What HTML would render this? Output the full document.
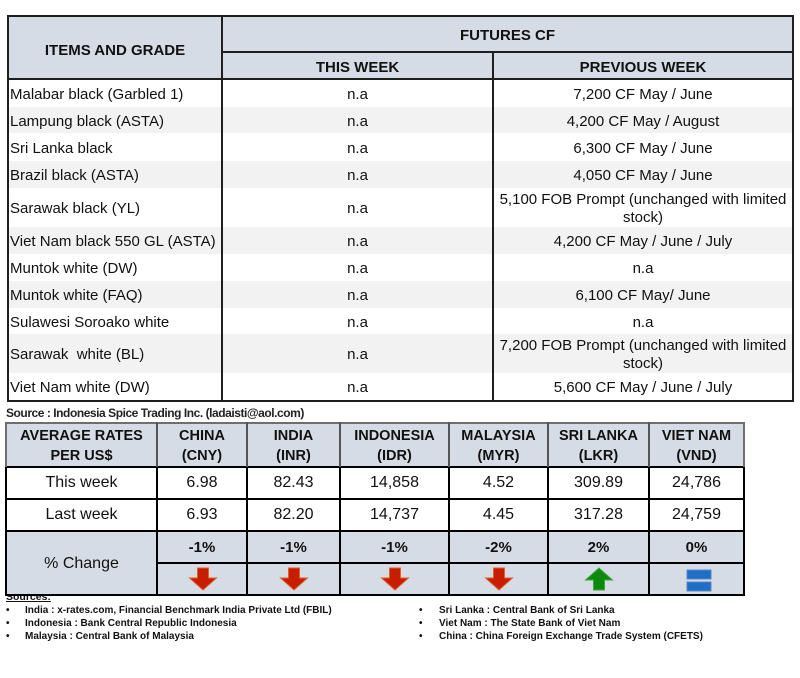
<!DOCTYPE html>
<html>
<head>
<meta charset="utf-8">
<style>
  html, body { margin:0; padding:0; }
  body { width:800px; height:678px; background:#fff; position:relative; overflow:hidden;
         font-family:"Liberation Sans", Arial, sans-serif; color:#111; }
  .a { position:absolute; }
  .bg { position:absolute; }
  .ln { position:absolute; background:#1e1e1e; }
  .c { position:absolute; display:flex; align-items:center; justify-content:center; text-align:center; white-space:nowrap; }
  .l { position:absolute; display:flex; align-items:center; white-space:nowrap; }
  .t1 { font-size:15px; }
  .hb { font-weight:bold; font-size:15px; }
  .h2 { font-weight:bold; font-size:14.5px; line-height:20px; }
  .v2 { font-size:16px; }
  .src { font-size:10px; font-weight:bold; color:#111; }
</style>
</head>
<body>

<!-- ============ TOP TABLE ============ -->
<div class="bg" style="left:8px;top:16px;width:785px;height:63px;background:#d6dce5;"></div>
<div class="bg" style="left:8px;top:107px;width:785px;height:26px;background:#f2f2f2;"></div>
<div class="bg" style="left:8px;top:161px;width:785px;height:27px;background:#f2f2f2;"></div>
<div class="bg" style="left:8px;top:227px;width:785px;height:27px;background:#f2f2f2;"></div>
<div class="bg" style="left:8px;top:281px;width:785px;height:27px;background:#f2f2f2;"></div>
<div class="bg" style="left:8px;top:334px;width:785px;height:39px;background:#f2f2f2;"></div>

<!-- lines -->
<div class="ln" style="left:7px;top:15px;width:787px;height:2px;"></div>
<div class="ln" style="left:7px;top:400px;width:787px;height:2px;"></div>
<div class="ln" style="left:7px;top:15px;width:2px;height:387px;"></div>
<div class="ln" style="left:792px;top:15px;width:2px;height:387px;"></div>
<div class="ln" style="left:221px;top:15px;width:2px;height:387px;"></div>
<div class="ln" style="left:492px;top:51px;width:2px;height:351px;"></div>
<div class="ln" style="left:221px;top:51px;width:573px;height:2px;"></div>
<div class="ln" style="left:7px;top:78px;width:787px;height:2px;"></div>

<!-- header text -->
<div class="c hb" style="left:8px;top:19px;width:214px;height:63px;">ITEMS AND GRADE</div>
<div class="c hb" style="left:222px;top:17px;width:571px;height:36px;">FUTURES CF</div>
<div class="c hb" style="left:222px;top:54px;width:271px;height:27px;">THIS WEEK</div>
<div class="c hb" style="left:493px;top:54px;width:300px;height:27px;">PREVIOUS WEEK</div>

<!-- rows: col1 -->
<div class="l t1" style="left:10px;top:81px;height:27px;">Malabar black (Garbled 1)</div>
<div class="l t1" style="left:10px;top:108px;height:27px;">Lampung black (ASTA)</div>
<div class="l t1" style="left:10px;top:135px;height:27px;">Sri Lanka black</div>
<div class="l t1" style="left:10px;top:162px;height:27px;">Brazil black (ASTA)</div>
<div class="l t1" style="left:10px;top:189px;height:39px;">Sarawak black (YL)</div>
<div class="l t1" style="left:10px;top:228px;height:27px;">Viet Nam black 550 GL (ASTA)</div>
<div class="l t1" style="left:10px;top:255px;height:27px;">Muntok white (DW)</div>
<div class="l t1" style="left:10px;top:282px;height:27px;">Muntok white (FAQ)</div>
<div class="l t1" style="left:10px;top:309px;height:27px;">Sulawesi Soroako white</div>
<div class="l t1" style="left:10px;top:335px;height:39px;">Sarawak&nbsp; white (BL)</div>
<div class="l t1" style="left:10px;top:374px;height:27px;">Viet Nam white (DW)</div>

<!-- col2 -->
<div class="c t1" style="left:222px;top:81px;width:271px;height:27px;">n.a</div>
<div class="c t1" style="left:222px;top:108px;width:271px;height:27px;">n.a</div>
<div class="c t1" style="left:222px;top:135px;width:271px;height:27px;">n.a</div>
<div class="c t1" style="left:222px;top:162px;width:271px;height:27px;">n.a</div>
<div class="c t1" style="left:222px;top:189px;width:271px;height:39px;">n.a</div>
<div class="c t1" style="left:222px;top:228px;width:271px;height:27px;">n.a</div>
<div class="c t1" style="left:222px;top:255px;width:271px;height:27px;">n.a</div>
<div class="c t1" style="left:222px;top:282px;width:271px;height:27px;">n.a</div>
<div class="c t1" style="left:222px;top:309px;width:271px;height:27px;">n.a</div>
<div class="c t1" style="left:222px;top:335px;width:271px;height:39px;">n.a</div>
<div class="c t1" style="left:222px;top:374px;width:271px;height:27px;">n.a</div>

<!-- col3 -->
<div class="c t1" style="left:493px;top:81px;width:300px;height:27px;">7,200 CF May / June</div>
<div class="c t1" style="left:493px;top:108px;width:300px;height:27px;">4,200 CF May / August</div>
<div class="c t1" style="left:493px;top:135px;width:300px;height:27px;">6,300 CF May / June</div>
<div class="c t1" style="left:493px;top:162px;width:300px;height:27px;">4,050 CF May / June</div>
<div class="c t1" style="left:493px;top:189px;width:300px;height:39px;line-height:18px;">5,100 FOB Prompt (unchanged with limited<br>stock)</div>
<div class="c t1" style="left:493px;top:228px;width:300px;height:27px;">4,200 CF May / June / July</div>
<div class="c t1" style="left:493px;top:255px;width:300px;height:27px;">n.a</div>
<div class="c t1" style="left:493px;top:282px;width:300px;height:27px;">6,100 CF May/ June</div>
<div class="c t1" style="left:493px;top:309px;width:300px;height:27px;">n.a</div>
<div class="c t1" style="left:493px;top:335px;width:300px;height:39px;line-height:18px;">7,200 FOB Prompt (unchanged with limited<br>stock)</div>
<div class="c t1" style="left:493px;top:374px;width:300px;height:27px;">5,600 CF May / June / July</div>

<!-- source line -->
<div class="l" style="left:6px;top:404px;height:17px;font-size:12px;font-weight:bold;letter-spacing:-0.45px;color:#222;">Source : Indonesia Spice Trading Inc. (ladaisti@aol.com)</div>

<!-- ============ SOURCES (under table 2) ============ -->
<div class="a src" style="left:6px;top:591px;text-decoration:underline;font-size:10.5px;">Sources:</div>

<!-- ============ TABLE 2 ============ -->
<div class="bg" style="left:6px;top:423px;width:738px;height:44px;background:#d6dce5;"></div>
<div class="bg" style="left:6px;top:531px;width:738px;height:64px;background:#d6dce5;"></div>

<!-- horizontal lines -->
<div class="ln" style="left:5px;top:422px;width:740px;height:2px;background:#6e6e6e;"></div>
<div class="ln" style="left:5px;top:466px;width:740px;height:2px;background:#000;"></div>
<div class="ln" style="left:5px;top:498px;width:740px;height:2px;background:#000;"></div>
<div class="ln" style="left:5px;top:530px;width:740px;height:2px;background:#000;"></div>
<div class="ln" style="left:156px;top:562px;width:589px;height:2px;background:#000;"></div>
<div class="ln" style="left:5px;top:594px;width:740px;height:2px;background:#000;"></div>
<!-- vertical lines header part -->
<div class="ln" style="left:5px;top:422px;width:2px;height:45px;background:#6e6e6e;"></div>
<div class="ln" style="left:156px;top:422px;width:2px;height:45px;background:#555;"></div>
<div class="ln" style="left:246px;top:422px;width:2px;height:45px;background:#555;"></div>
<div class="ln" style="left:339px;top:422px;width:2px;height:45px;background:#555;"></div>
<div class="ln" style="left:448px;top:422px;width:2px;height:45px;background:#555;"></div>
<div class="ln" style="left:547px;top:422px;width:2px;height:45px;background:#555;"></div>
<div class="ln" style="left:648px;top:422px;width:2px;height:45px;background:#555;"></div>
<div class="ln" style="left:743px;top:422px;width:2px;height:45px;background:#6e6e6e;"></div>
<!-- vertical lines body -->
<div class="ln" style="left:5px;top:467px;width:2px;height:129px;background:#000;"></div>
<div class="ln" style="left:156px;top:467px;width:2px;height:129px;background:#000;"></div>
<div class="ln" style="left:246px;top:467px;width:2px;height:129px;background:#000;"></div>
<div class="ln" style="left:339px;top:467px;width:2px;height:129px;background:#000;"></div>
<div class="ln" style="left:448px;top:467px;width:2px;height:129px;background:#000;"></div>
<div class="ln" style="left:547px;top:467px;width:2px;height:129px;background:#000;"></div>
<div class="ln" style="left:648px;top:467px;width:2px;height:129px;background:#000;"></div>
<div class="ln" style="left:743px;top:467px;width:2px;height:129px;background:#000;"></div>

<!-- header text -->
<div class="c h2" style="left:6px;top:424px;width:151px;height:43px;">AVERAGE RATES<br>PER US$</div>
<div class="c h2" style="left:157px;top:424px;width:90px;height:43px;">CHINA<br>(CNY)</div>
<div class="c h2" style="left:247px;top:424px;width:93px;height:43px;">INDIA<br>(INR)</div>
<div class="c h2" style="left:340px;top:424px;width:109px;height:43px;">INDONESIA<br>(IDR)</div>
<div class="c h2" style="left:449px;top:424px;width:99px;height:43px;">MALAYSIA<br>(MYR)</div>
<div class="c h2" style="left:548px;top:424px;width:101px;height:43px;">SRI LANKA<br>(LKR)</div>
<div class="c h2" style="left:649px;top:424px;width:95px;height:43px;">VIET NAM<br>(VND)</div>

<!-- this week -->
<div class="c v2" style="left:6px;top:467px;width:151px;height:32px;">This week</div>
<div class="c v2" style="left:157px;top:467px;width:90px;height:32px;">6.98</div>
<div class="c v2" style="left:247px;top:467px;width:93px;height:32px;">82.43</div>
<div class="c v2" style="left:340px;top:467px;width:109px;height:32px;">14,858</div>
<div class="c v2" style="left:449px;top:467px;width:99px;height:32px;">4.52</div>
<div class="c v2" style="left:548px;top:467px;width:101px;height:32px;">309.89</div>
<div class="c v2" style="left:649px;top:467px;width:95px;height:32px;">24,786</div>

<!-- last week -->
<div class="c v2" style="left:6px;top:499px;width:151px;height:32px;">Last week</div>
<div class="c v2" style="left:157px;top:499px;width:90px;height:32px;">6.93</div>
<div class="c v2" style="left:247px;top:499px;width:93px;height:32px;">82.20</div>
<div class="c v2" style="left:340px;top:499px;width:109px;height:32px;">14,737</div>
<div class="c v2" style="left:449px;top:499px;width:99px;height:32px;">4.45</div>
<div class="c v2" style="left:548px;top:499px;width:101px;height:32px;">317.28</div>
<div class="c v2" style="left:649px;top:499px;width:95px;height:32px;">24,759</div>

<!-- % change -->
<div class="c v2" style="left:6px;top:532px;width:151px;height:63px;">% Change</div>
<div class="c hb" style="left:157px;top:532px;width:90px;height:31px;">-1%</div>
<div class="c hb" style="left:247px;top:532px;width:93px;height:31px;">-1%</div>
<div class="c hb" style="left:340px;top:532px;width:109px;height:31px;">-1%</div>
<div class="c hb" style="left:449px;top:532px;width:99px;height:31px;">-2%</div>
<div class="c hb" style="left:548px;top:532px;width:101px;height:31px;">2%</div>
<div class="c hb" style="left:649px;top:532px;width:95px;height:31px;">0%</div>

<!-- arrows -->
<svg class="a" style="left:0;top:0;" width="800" height="678" viewBox="0 0 800 678">
  <defs>
    <g id="dn">
      <polygon points="-5.5,0 5.5,0 5.5,10 13.5,10 0,22 -13.5,10 -5.5,10" fill="#c81e00" stroke="#e0602a" stroke-width="1"/>
    </g>
    <g id="up">
      <polygon points="-5.5,22 5.5,22 5.5,12 13.5,12 0,0 -13.5,12 -5.5,12" fill="#0d8a0d" stroke="#3aa83a" stroke-width="1"/>
    </g>
  </defs>
  <use href="#dn" x="203" y="568"/>
  <use href="#dn" x="294" y="568"/>
  <use href="#dn" x="395" y="568"/>
  <use href="#dn" x="499" y="568"/>
  <use href="#up" x="599" y="568"/>
  <rect x="687" y="570" width="24" height="9" fill="#1f6fc6" stroke="#5a86c4" stroke-width="1"/>
  <rect x="687" y="582" width="24" height="9" fill="#1f6fc6" stroke="#5a86c4" stroke-width="1"/>
</svg>

<!-- sources list -->
<div class="a src" style="left:6px;top:605px;">•</div>
<div class="a src" style="left:6px;top:618px;">•</div>
<div class="a src" style="left:6px;top:631px;">•</div>
<div class="a src" style="left:25px;top:605px;">India : x-rates.com, Financial Benchmark India Private Ltd (FBIL)</div>
<div class="a src" style="left:25px;top:618px;">Indonesia : Bank Central Republic Indonesia</div>
<div class="a src" style="left:25px;top:631px;">Malaysia : Central Bank of Malaysia</div>

<div class="a src" style="left:419px;top:605px;">•</div>
<div class="a src" style="left:419px;top:618px;">•</div>
<div class="a src" style="left:419px;top:631px;">•</div>
<div class="a src" style="left:439px;top:605px;">Sri Lanka : Central Bank of Sri Lanka</div>
<div class="a src" style="left:439px;top:618px;">Viet Nam : The State Bank of Viet Nam</div>
<div class="a src" style="left:439px;top:631px;">China : China Foreign Exchange Trade System (CFETS)</div>

</body>
</html>
